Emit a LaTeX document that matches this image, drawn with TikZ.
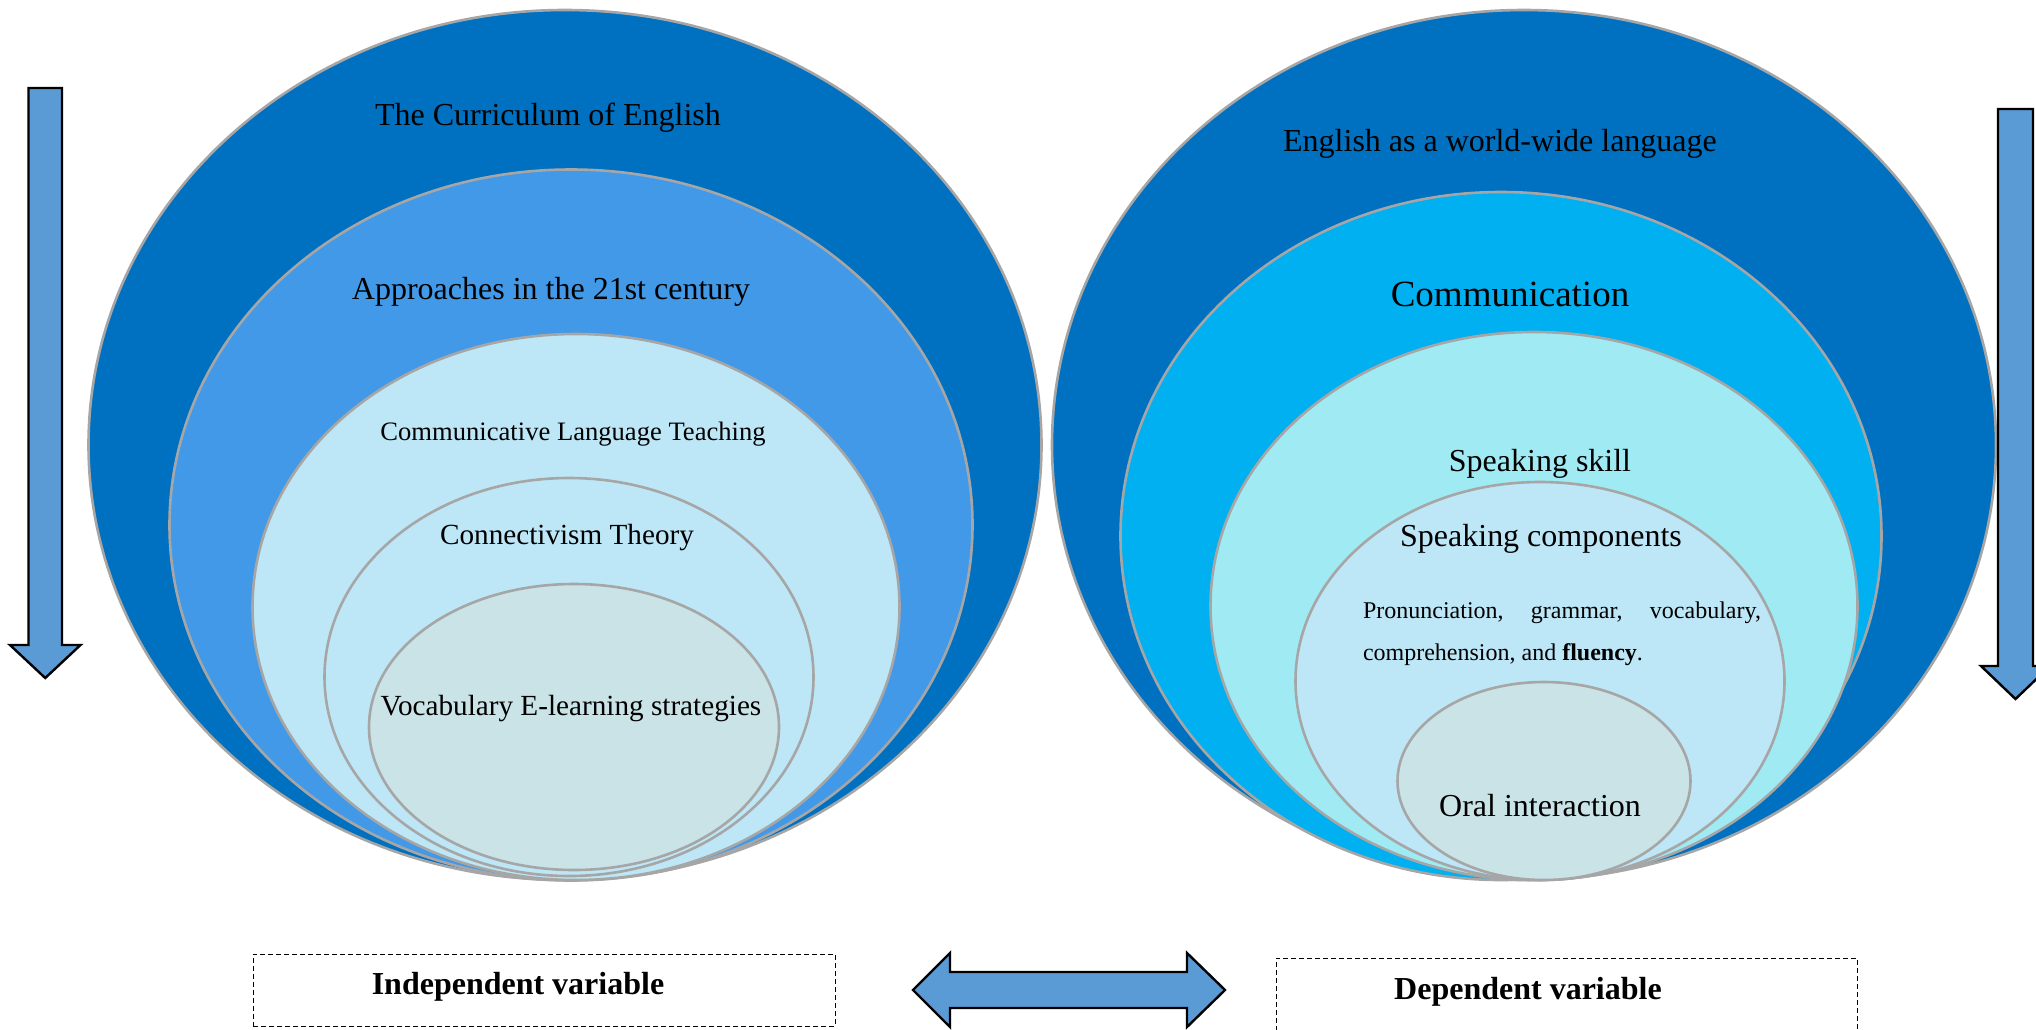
\documentclass[tikz,border=0pt]{standalone}
\usepackage{fontspec}
\setmainfont{Liberation Serif}
\usetikzlibrary{shapes.geometric}
\definecolor{deepblue}{HTML}{0070C0}
\definecolor{skyblue}{HTML}{4299E8}
\definecolor{paleblue}{HTML}{BDE7F6}
\definecolor{greyblue}{HTML}{C9E3E6}
\definecolor{cyanblue}{HTML}{00B0F0}
\definecolor{aquablue}{HTML}{A0EAF3}
\definecolor{arrowblue}{HTML}{5B9BD5}
\definecolor{ringgray}{HTML}{A6A6A6}

\begin{document}
\begin{tikzpicture}[x=0.5pt,y=-0.5pt,
    ring/.style={ellipse,draw=ringgray,line width=1.3pt,inner sep=0pt},
    lbl/.style={font=\fontsize{16}{19}\selectfont,inner sep=0pt},
    varbox/.style={draw,dash pattern=on 2.5pt off 1.5pt,line width=0.5pt,inner sep=0pt},
    bigarrow/.style={fill=arrowblue,draw=black,line width=1.2pt,line join=miter}]
\useasboundingbox (0,0) rectangle (2036,1029);

% left side: independent variable
\node[ring,fill=deepblue,minimum width=476.5pt,minimum height=435pt] (l1) at (565,445) {};
\node[ring,fill=skyblue,minimum width=401.5pt,minimum height=355.5pt] (l2) at (571,525) {};
\node[ring,fill=paleblue,minimum width=323.5pt,minimum height=273pt] (l3) at (576,607) {};
\node[ring,fill=paleblue,minimum width=244.5pt,minimum height=199pt] (l4) at (569,677) {};
\node[ring,fill=greyblue,minimum width=205pt,minimum height=143pt] (l5) at (574,727) {};

\node[lbl] (curriculum) at (548,118) {The Curriculum of English};
\node[lbl] (approaches) at (551,292) {Approaches in the 21st century};
\node[lbl,font=\fontsize{13.3}{16}\selectfont] (clt) at (573,434) {Communicative Language Teaching};
\node[lbl,font=\fontsize{14.6}{17}\selectfont] (connect) at (567,538) {Connectivism Theory};
\node[lbl,font=\fontsize{14.6}{17}\selectfont] (vocab) at (571,709) {Vocabulary E-learning strategies};

% right side: dependent variable
\node[ring,fill=deepblue,minimum width=472pt,minimum height=435pt] (r1) at (1524,445) {};
\node[ring,fill=cyanblue,minimum width=380.5pt,minimum height=344pt] (r2) at (1501,536) {};
\node[ring,fill=aquablue,minimum width=323.5pt,minimum height=274pt] (r3) at (1534,606) {};
\node[ring,fill=paleblue,minimum width=244.5pt,minimum height=199pt] (r4) at (1540,681) {};
\node[ring,fill=greyblue,minimum width=146.5pt,minimum height=99pt] (r5) at (1544,781) {};

\node[lbl] (worldlang) at (1500,144) {English as a world-wide language};
\node[lbl,font=\fontsize{18.5}{22}\selectfont] (comm) at (1510,294) {Communication};
\node[lbl] (speaking) at (1540,464) {Speaking skill};
\node[lbl] (components) at (1541,539) {Speaking components};
\node[lbl,font=\fontsize{12}{21}\selectfont,text width=199pt,align=justify] (skills) at (1562,634)
  {\hyphenpenalty=10000 Pronunciation, grammar, vocabulary, comprehension, and \textbf{fluency}.};
\node[lbl] (oral) at (1540,806) {Oral interaction};

% side arrows
\draw[bigarrow] (28.5,88) -- (62,88) -- (62,645) -- (80.5,645) -- (45.25,678)
  -- (10,645) -- (28.5,645) -- cycle;
\draw[bigarrow] (1998,109) -- (2033,109) -- (2033,666) -- (2050,666) -- (2015.5,699)
  -- (1981,666) -- (1998,666) -- cycle;

% variables
\node[varbox,minimum width=291pt,minimum height=36pt] (indepbox) at (544,990) {};
\node[varbox,minimum width=290.5pt,minimum height=37pt] (depbox) at (1566.5,995) {};
\node[lbl,font=\fontsize{16}{19}\selectfont\bfseries] (indep) at (518,987) {Independent variable};
\node[lbl,font=\fontsize{16}{19}\selectfont\bfseries] (dep) at (1528,992) {Dependent variable};
\draw[bigarrow] (913,990) -- (950,953) -- (950,972) -- (1187,972) -- (1187,953) -- (1225,990)
  -- (1187,1027) -- (1187,1008) -- (950,1008) -- (950,1027) -- cycle;
\end{tikzpicture}
\end{document}
